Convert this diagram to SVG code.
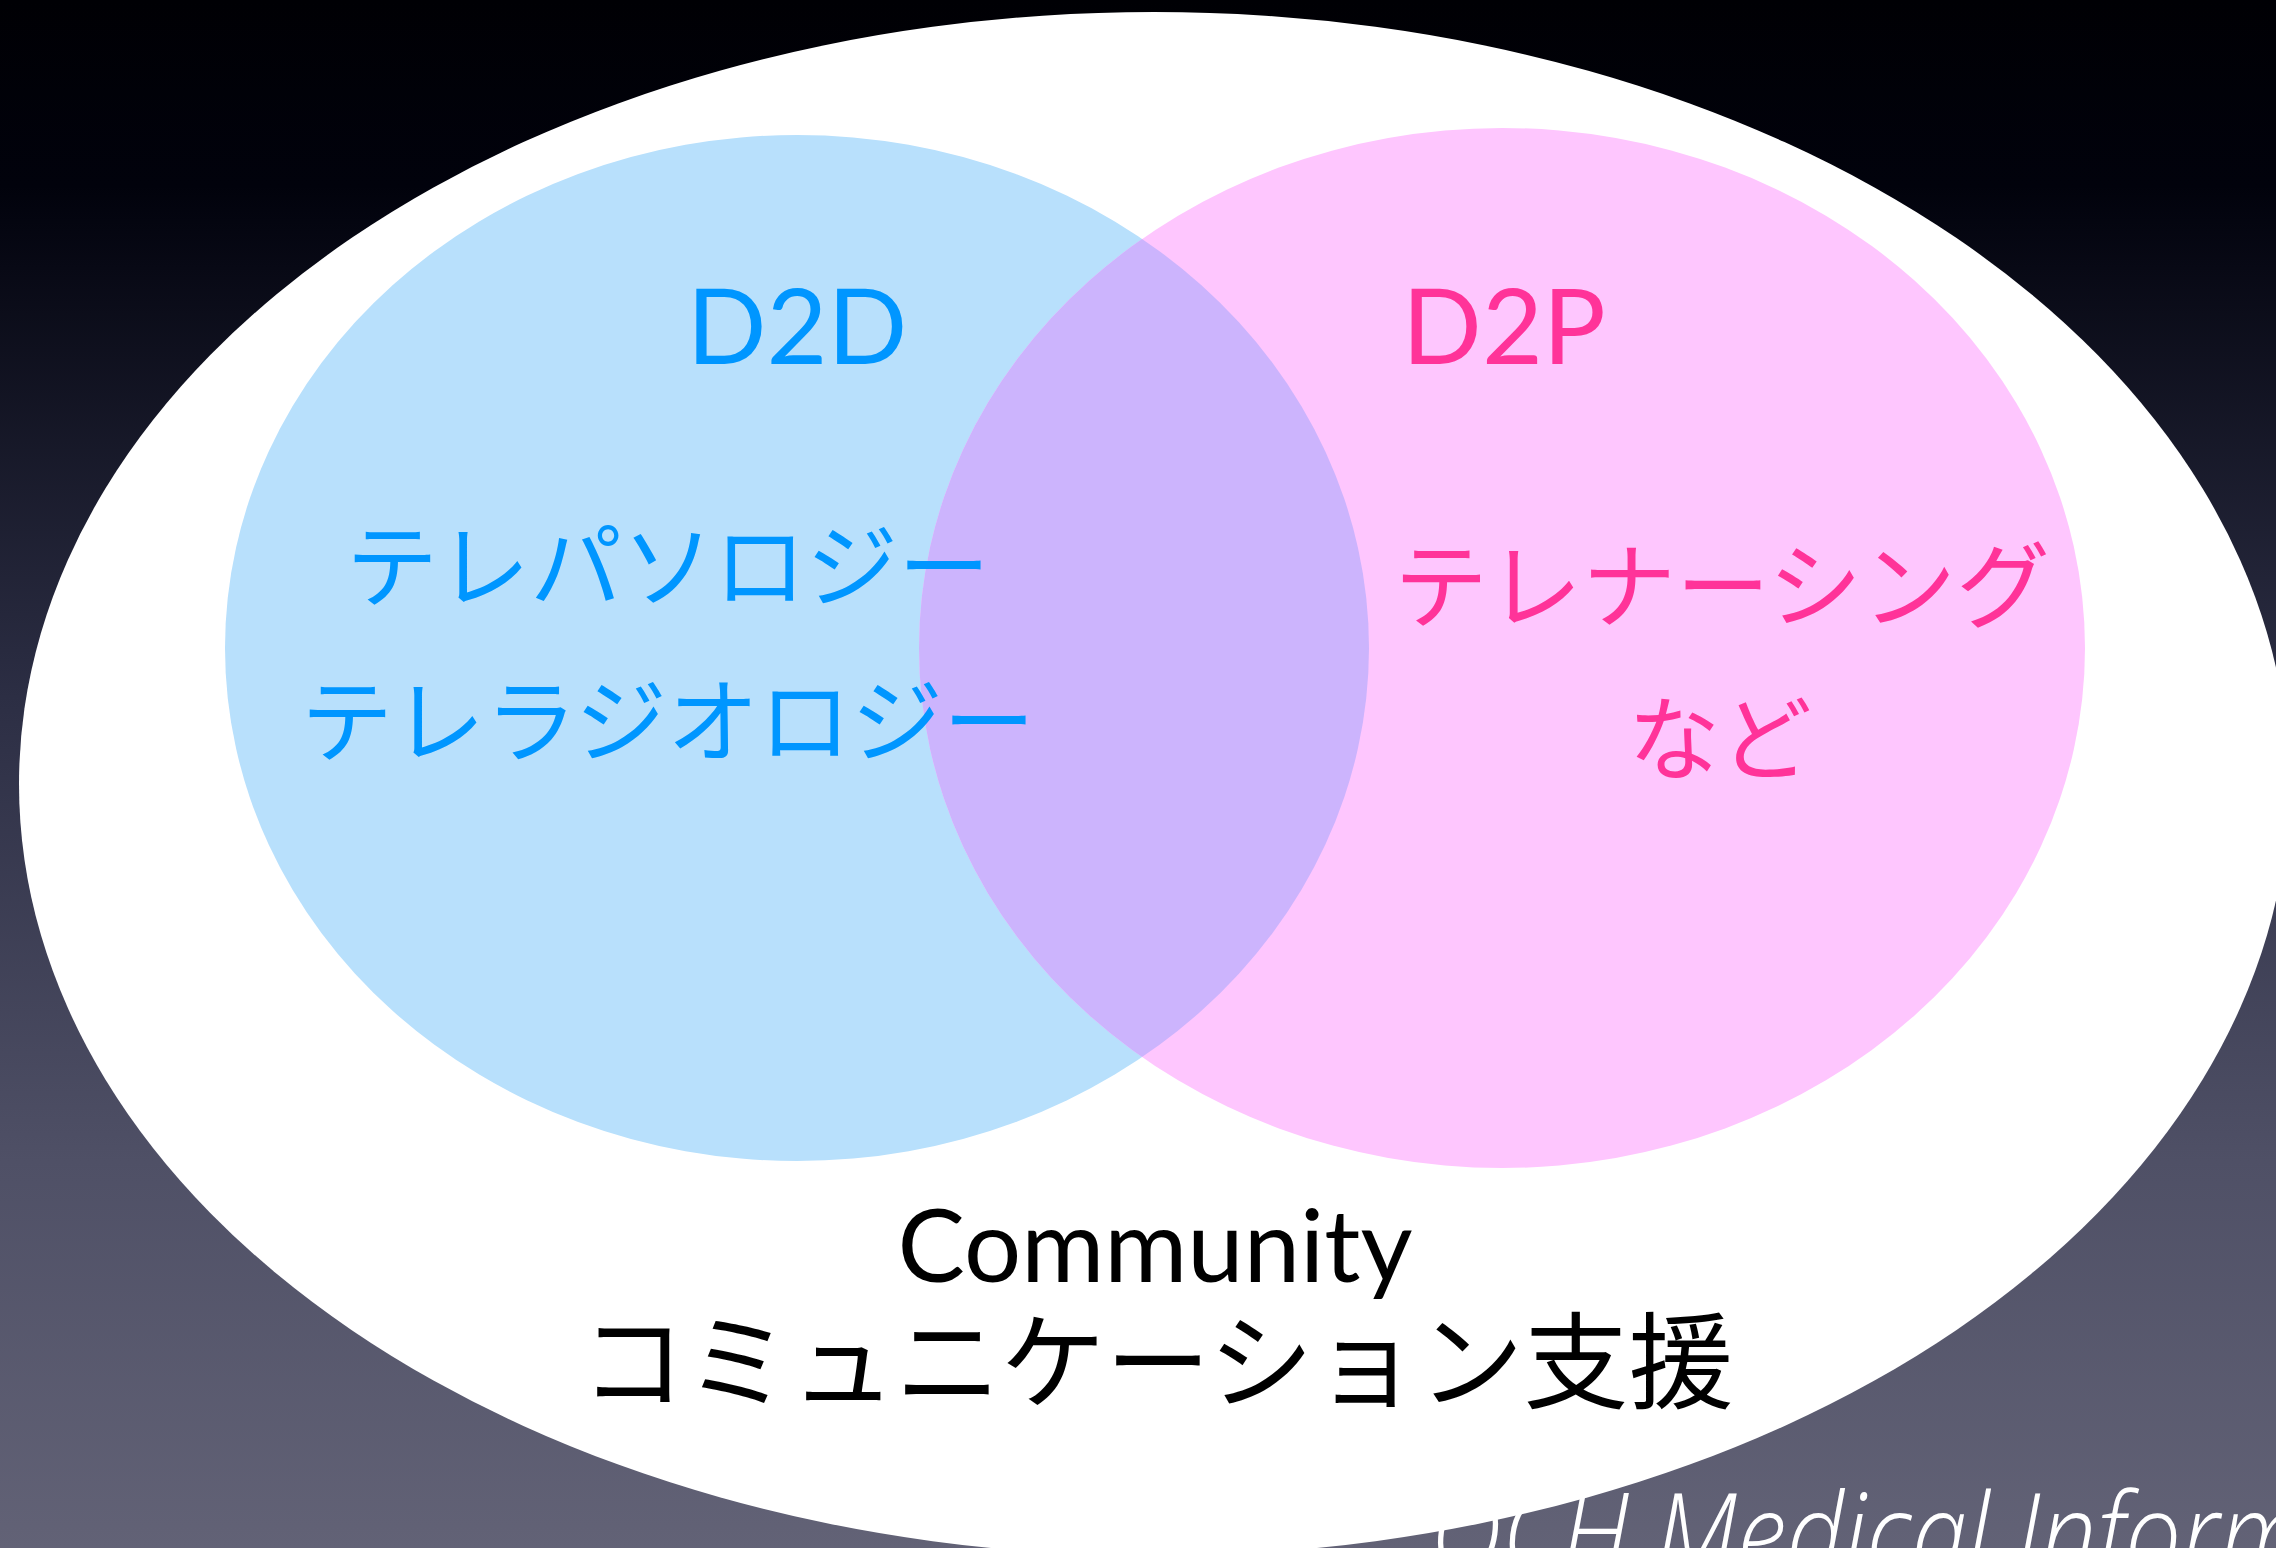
<svg xmlns="http://www.w3.org/2000/svg" width="2276" height="1548" viewBox="0 0 2276 1548">
  <defs>
    <linearGradient id="bg" x1="0" y1="0" x2="0" y2="1">
      <stop offset="0" stop-color="#000004"/>
      <stop offset="0.12" stop-color="#01020c"/>
      <stop offset="0.45" stop-color="#2c2e44"/>
      <stop offset="0.75" stop-color="#4f5066"/>
      <stop offset="1" stop-color="#626276"/>
    </linearGradient>
    <clipPath id="clipBlue">
      <ellipse cx="797" cy="648" rx="572" ry="513"/>
    </clipPath>
    <style>
      .latin { font-family: Lato, "Open Sans", "DejaVu Sans", sans-serif; }
      .jp { font-family: "Noto Sans CJK JP", "Noto Sans", sans-serif; }
      .blue { fill: #0096ff; }
      .pink { fill: #ff3399; }
    </style>
  </defs>

  <!-- backdrop -->
  <rect x="0" y="0" width="2276" height="1548" fill="url(#bg)"/>

  <!-- footer caption, partly hidden behind the community ellipse -->
  <text x="1430" y="1574" font-family="'Open Sans', Lato, sans-serif" font-style="italic" font-weight="300" font-size="112" fill="#ffffff" textLength="875" lengthAdjust="spacingAndGlyphs">OCH Medical Inform</text>

  <!-- community ellipse -->
  <g id="community">
    <ellipse cx="1154" cy="784" rx="1135" ry="772" fill="#ffffff"/>
    <text class="latin" x="1155" y="1282" text-anchor="middle" font-size="101" fill="#000000">Community</text>
    <text class="jp" x="1157" y="1400" text-anchor="middle" font-size="105" fill="#000000">コミュニケーション支援</text>
  </g>

  <!-- doctor-to-doctor circle -->
  <g id="d2d">
    <ellipse cx="797" cy="648" rx="572" ry="513" fill="#b8e0fc"/>
  </g>

  <!-- doctor-to-patient circle -->
  <g id="d2p">
    <ellipse cx="1502" cy="648" rx="583" ry="520" fill="#fec6fe"/>
  </g>

  <!-- overlap of the two circles -->
  <g id="overlap">
    <ellipse cx="1502" cy="648" rx="583" ry="520" fill="#ccb4fd" clip-path="url(#clipBlue)"/>
  </g>

  <!-- labels -->
  <g id="d2d-labels">
    <text class="latin blue" x="797" y="364" text-anchor="middle" font-size="105">D2D</text>
    <text class="jp blue" x="668" y="600" text-anchor="middle" font-size="92">テレパソロジー</text>
    <text class="jp blue" x="668" y="755" text-anchor="middle" font-size="92">テレラジオロジー</text>
  </g>
  <g id="d2p-labels">
    <text class="latin pink" x="1504" y="364" text-anchor="middle" font-size="105">D2P</text>
    <text class="jp pink" x="1722" y="621" text-anchor="middle" font-size="94">テレナーシング</text>
    <text class="jp pink" x="1720" y="773" text-anchor="middle" font-size="92">など</text>
  </g>
</svg>
